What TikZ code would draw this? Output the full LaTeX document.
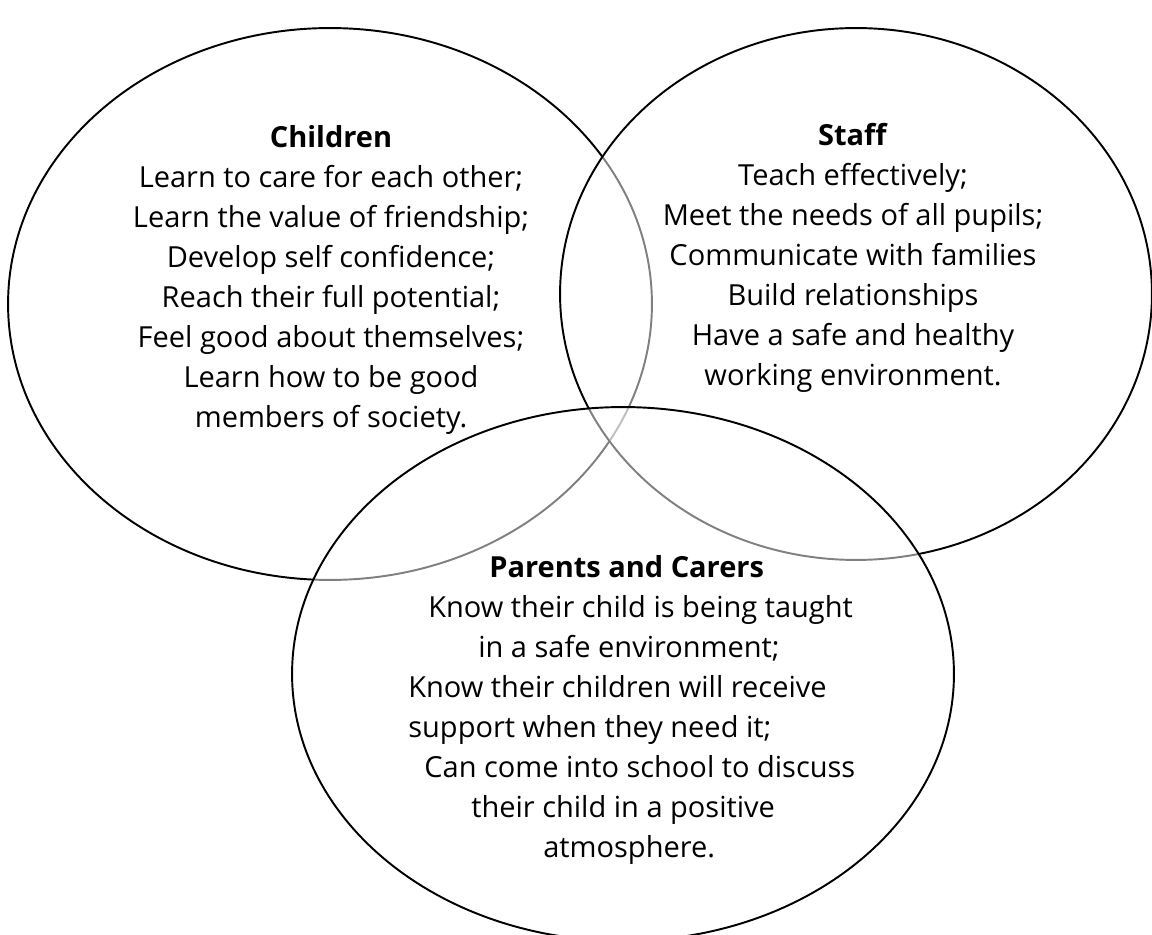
\documentclass[tikz,border=0pt]{standalone}
\usepackage{fontspec}
\setmainfont{Open Sans}
\usetikzlibrary{shapes.geometric, positioning}

\begin{document}
\begin{tikzpicture}[x=0.02cm, y=-0.02cm]
    \tikzstyle{venn} = [ellipse, draw, line width=1.1pt, fill=white, fill opacity=0.5, inner sep=0pt]
    \tikzstyle{blurb} = [align=center, inner sep=0pt, font=\fontsize{16.5}{22.8}\selectfont]

    \useasboundingbox (0,0) rectangle (1152,935);

    % Circles
    \node (children) [venn, minimum width=12.88cm, minimum height=11.04cm] at (330,304) {};
    \node (staff) [venn, minimum width=11.84cm, minimum height=10.64cm] at (856,294) {};
    \node (parents) [venn, minimum width=13.24cm, minimum height=10.68cm] at (623,674) {};

    % Text
    \node (childtext) [blurb] at (331,280) {\textbf{Children}\\
        Learn to care for each other;\\
        Learn the value of friendship;\\
        Develop self confidence;\\
        Reach their full potential;\\
        Feel good about themselves;\\
        Learn how to be good\\
        members of society.};
    \node (stafftext) [blurb] at (853,258) {\textbf{Staff}\\
        Teach effectively;\\
        Meet the needs of all pupils;\\
        Communicate with families\\
        Build relationships\\
        Have a safe and healthy\\
        working environment.};
    \node (parenttext) [blurb, align=left, anchor=west] at (408,710) {\hspace*{1.62cm}\textbf{Parents and Carers}\\
        \hspace*{0.40cm}Know their child is being taught\\
        \hspace*{1.40cm}in a safe environment;\\
        Know their children will receive\\
        support when they need it;\\
        \hspace*{0.32cm}Can come into school to discuss\\
        \hspace*{1.26cm}their child in a positive\\
        \hspace*{2.70cm}atmosphere.};
\end{tikzpicture}
\end{document}
